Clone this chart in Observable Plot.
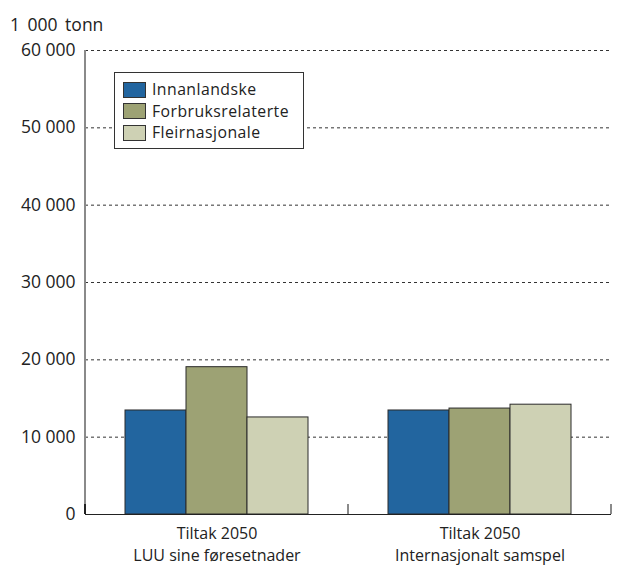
<!DOCTYPE html>
<html>
<head>
<meta charset="utf-8">
<script src="https://cdn.jsdelivr.net/npm/d3@7"></script>
<script src="https://cdn.jsdelivr.net/npm/@observablehq/plot@0.6"></script>
<style>
  html, body { margin: 0; padding: 0; background: #fff; }
  #wrap { position: relative; width: 643px; height: 565px; font-family: "Open Sans", sans-serif; color: #222; }
  #unit { position: absolute; left: 10px; top: 12px; font-size: 17.5px; word-spacing: 3px; }
  #legend { position: absolute; left: 114px; top: 72px; width: 190px; height: 77px; border: 1px solid #333; background: #fff; box-sizing: border-box; }
  .row { position: absolute; left: 8px; height: 21px; display: flex; align-items: center; font-size: 15.8px; letter-spacing: 0.45px; line-height: 21px; }
  .sw { width: 23px; height: 16px; border: 1px solid #333; margin-right: 6px; box-sizing: border-box; }
</style>
</head>
<body>
<div id="wrap">
  <div id="chart"></div>
  <div id="unit">1 000 tonn</div>
  <div id="legend"></div>
</div>
<script>
const groups = ["Tiltak 2050\nLUU sine føresetnader", "Tiltak 2050\nInternasjonalt samspel"];
const series = ["Innanlandske", "Forbruksrelaterte", "Fleirnasjonale"];
const innanlandske = [13450, 13450];
const forbruksrelaterte = [19050, 13700];
const fleirnasjonale = [12550, 14200];
const yTicks = [0, 10000, 20000, 30000, 40000, 50000, 60000];
const colors = ["#22659f", "#9da274", "#ced1b4"];

const values = [innanlandske, forbruksrelaterte, fleirnasjonale];
const data = [];
groups.forEach((g, gi) => series.forEach((s, si) => data.push({group: g, series: s, value: values[si][gi]})));

const fmt = d => d3.format(",")(d).replace(/,/g, " ");

const plot = Plot.plot({
  width: 643,
  height: 565,
  marginLeft: 85,
  marginRight: 32,
  marginTop: 50,
  marginBottom: 51,
  style: {fontFamily: "Open Sans, sans-serif", fontSize: "17px", color: "#222", background: "transparent"},
  fx: {domain: groups, padding: 0, label: null, axis: null},
  x: {domain: series, paddingInner: 0, paddingOuter: 0.63, axis: null},
  y: {domain: [0, 60000], label: null, axis: null},
  color: {domain: series, range: colors},
  marks: [
    Plot.ruleY(yTicks.filter(d => d > 0), {stroke: "#333", strokeDasharray: "3,3", strokeWidth: 1}),
    Plot.barY(data, {fx: "group", x: "series", y: "value", fill: "series", stroke: "#2a2a2a", strokeWidth: 1}),
    Plot.ruleY([0], {stroke: "#222", strokeWidth: 1.2}),
    Plot.axisY({ticks: yTicks, tickFormat: fmt, tickSize: 0, tickPadding: 10, fontSize: 17.5, label: null}),
    Plot.axisFx({anchor: "bottom", tickSize: 0, tickPadding: 9, fontSize: 16, lineHeight: 1.37, label: null, style: {letterSpacing: "0.3px"}})
  ]
});
document.getElementById("chart").appendChild(plot);

// axis line and category boundary ticks
const ys = plot.scale("y");
const fxs = plot.scale("fx");
const svg = d3.select(plot);
const y0 = ys.apply(0), yTop = ys.apply(60000);
const left = fxs.apply(groups[0]);
const bw = fxs.bandwidth;
svg.append("line").attr("x1", left).attr("x2", left).attr("y1", yTop).attr("y2", y0)
  .attr("stroke", "#8a8a8a").attr("stroke-width", 2);
const bounds = [left, ...groups.map(g => fxs.apply(g) + bw)];
bounds.forEach((bx, i) => {
  svg.append("line").attr("x1", bx).attr("x2", bx).attr("y1", y0 - 10).attr("y2", y0)
    .attr("stroke", i === 0 ? "#222" : "#8a8a8a").attr("stroke-width", 2);
});

// legend
const lg = document.getElementById("legend");
series.forEach((s, i) => {
  const r = document.createElement("div");
  r.className = "row";
  r.style.top = (6 + i * 21.5) + "px";
  r.innerHTML = `<div class="sw" style="background:${colors[i]}"></div><span>${s}</span>`;
  lg.appendChild(r);
});
</script>
</body>
</html>
